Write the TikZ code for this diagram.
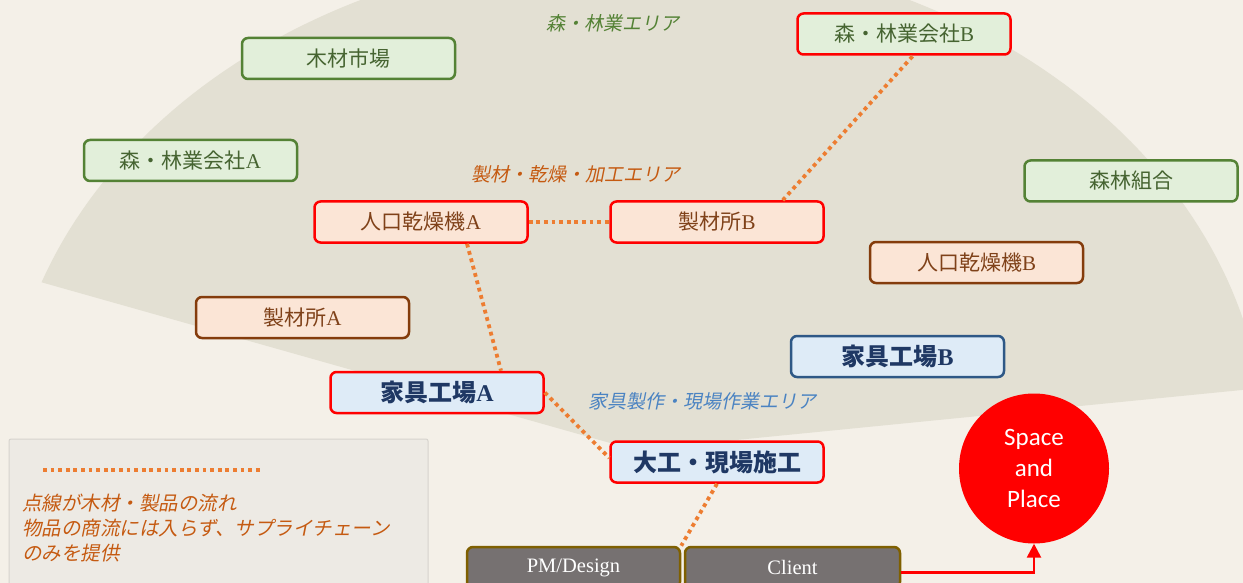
\documentclass[tikz,border=0pt]{standalone}
\usepackage{fontspec}
\usetikzlibrary{arrows.meta,calc}
\newfontfamily\jp{Noto Sans CJK JP}
\newfontfamily\jpit[FakeSlant=0.2]{Noto Sans CJK JP}
\newfontfamily\lser{Liberation Serif}
\newfontfamily\carl{Carlito}
\newcommand\lat[1]{{\lser #1}}
\definecolor{bgc}{HTML}{F4F0E8}
\definecolor{sectc}{HTML}{E3E0D3}
\definecolor{grn}{HTML}{548235}
\definecolor{grnfill}{HTML}{E2EFDA}
\definecolor{grntext}{HTML}{466431}
\definecolor{brn}{HTML}{843C0C}
\definecolor{orfill}{HTML}{FBE5D6}
\definecolor{brntext}{HTML}{7F4119}
\definecolor{bluefill}{HTML}{DEEBF7}
\definecolor{bluetext}{HTML}{1F3864}
\definecolor{blueedge}{HTML}{2E5886}
\definecolor{flowc}{HTML}{ED7D31}
\definecolor{orlabel}{HTML}{C55A11}
\definecolor{bluelabel}{HTML}{4A83C2}
\definecolor{grayfill}{HTML}{767171}
\definecolor{olive}{HTML}{7F6000}
\definecolor{legfill}{HTML}{EDEAE4}
\definecolor{legedge}{HTML}{D6D3CD}
\definecolor{pure}{HTML}{FF0000}
\tikzset{
  box/.style={rounded corners=6pt, line width=2.5pt, minimum width=213pt, minimum height=41pt,
    inner sep=0pt, font=\jp\fontsize{21}{25}\selectfont},
  greenbox/.style={box, draw=grn, fill=grnfill, text=grntext},
  greenred/.style={box, draw=pure, fill=grnfill, text=grntext},
  orbox/.style={box, draw=brn, fill=orfill, text=brntext},
  orred/.style={box, draw=pure, fill=orfill, text=brntext},
  bluebox/.style={box, draw=blueedge, fill=bluefill, text=bluetext, font=\jp\bfseries\fontsize{24}{28}\selectfont},
  bluered/.style={box, draw=pure, fill=bluefill, text=bluetext, font=\jp\bfseries\fontsize{24}{28}\selectfont},
  graybox/.style={rounded corners=6pt, line width=2.5pt, draw=olive, fill=grayfill, text=white,
    minimum width=213pt, minimum height=41pt, inner sep=0pt, font=\lser\fontsize{20.5}{24}\selectfont},
  arealabel/.style={inner sep=0pt, font=\jpit\fontsize{19}{23}\selectfont},
  flow/.style={draw=flowc, line width=3.8pt, dash pattern=on 3.8pt off 3.8pt},
}
\begin{document}
\begin{tikzpicture}[x=1pt,y=-1pt]
\useasboundingbox (0,0) rectangle (1243,583);
\fill[bgc] (0,0) rectangle (1243,583);
\begin{scope}
  \clip (0,0) rectangle (1243,583);
  \fill[sectc] (635,450) -- plot[domain=-160.4:-7.1, samples=120] ({635+630*cos(\x)},{450+500*sin(\x)}) -- cycle;
\end{scope}

% area labels
\node[arealabel, text=grn] (lab1) at (612.5,23) {森・林業エリア};
\node[arealabel, text=orlabel] (lab2) at (575.5,174) {製材・乾燥・加工エリア};
\node[arealabel, text=bluelabel] (lab3) at (702,401) {家具製作・現場作業エリア};

% legend
\draw[fill=legfill, draw=legedge, line width=1pt, rounded corners=2pt] (9,439) rectangle (428,600);
\coordinate (legA) at (43,470);
\coordinate (legB) at (263,470);
\draw[flow] (legA) -- (legB);
\node[anchor=west, align=left, inner sep=0pt, text=orlabel, font=\jpit\fontsize{19.5}{25}\selectfont] (legtext) at (22,528)
  {点線が木材・製品の流れ\\物品の商流には入らず、サプライチェーン\\のみを提供};

% nodes
\node[greenbox] (market) at (348.5,58.5) {木材市場};
\node[greenbox] (forA) at (190.5,160.5) {森・林業会社\lat{A}};
\node[greenred] (forB) at (904,34) {森・林業会社\lat{B}};
\node[greenbox] (kumiai) at (1131,181) {森林組合};
\node[orred] (dryA) at (421,222) {人口乾燥機\lat{A}};
\node[orred] (sawB) at (717,222) {製材所\lat{B}};
\node[orbox] (dryB) at (976.5,262.5) {人口乾燥機\lat{B}};
\node[orbox] (sawA) at (302.5,317.5) {製材所\lat{A}};
\node[bluered] (kagA) at (437,392.5) {家具工場\lat{A}};
\node[bluebox] (kagB) at (897.5,356.5) {家具工場\lat{B}};
\node[bluered] (daiku) at (717,462) {大工・現場施工};
\node[graybox] (pm) at (573.5,567.5) {PM/Design};
\node[graybox, minimum width=215pt] (client) at (792.5,567.5) {Client};
\node[circle, fill=pure, minimum size=150pt, inner sep=0pt, text=white, align=center,
  font=\carl\fontsize{25}{31}\selectfont] (space) at (1034,468.5) {Space\\and\\Place};

% flows
\draw[flow] (dryA.east) -- (sawB.west);
\draw[flow] ([xshift=-42pt]sawB.north east) -- ([xshift=9pt]forB.south);
\draw[flow] ([xshift=46pt]dryA.south) -- ([xshift=64pt]kagA.north);
\draw[flow] (kagA.east) -- ([yshift=4pt]daiku.west);
\draw[flow] (daiku.south) -- (pm.north east);

% arrow
\draw[draw=pure, line width=2.5pt, -{Triangle[length=14pt,width=14pt]}] ([yshift=-5pt]client.east) -| (space.south);
\end{tikzpicture}
\end{document}
